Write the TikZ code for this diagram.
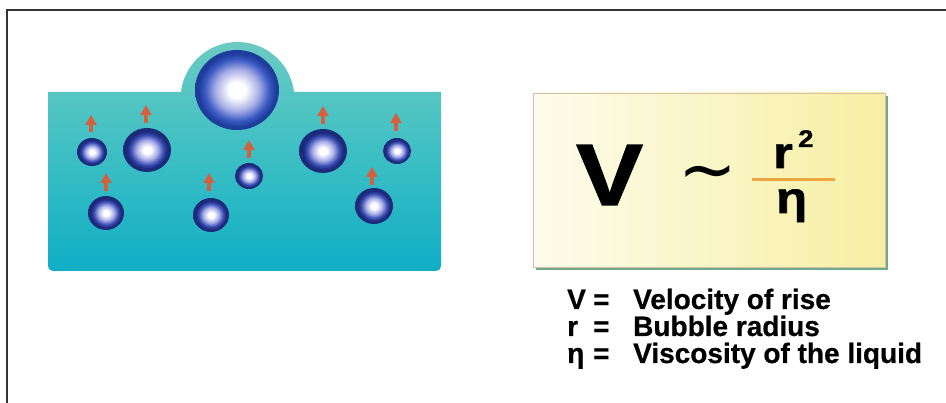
\documentclass[tikz,border=0pt]{standalone}
\usepackage{fontspec}
\setmainfont{Liberation Sans}
\newfontfamily\heavy[FakeBold=1.5,FakeStretch=1.15]{Liberation Sans Bold}
\newfontfamily\legendfont[FakeBold=0.6]{Liberation Sans Bold}
\newfontfamily\symfont{DejaVu Sans}
\usetikzlibrary{arrows.meta}

\definecolor{liqtop}{HTML}{6CCBC2}
\definecolor{liqmid}{HTML}{3CBFC4}
\definecolor{liqbot}{HTML}{10AEC6}
\definecolor{rimnavy}{HTML}{1C2A7A}
\definecolor{bubblue}{HTML}{3A4DB4}
\definecolor{bublav}{HTML}{A8AEE6}
\definecolor{bigblue}{HTML}{3D5CC4}
\definecolor{bigrim}{HTML}{1E3C9C}
\definecolor{arrowred}{HTML}{D5603E}
\definecolor{boxleft}{HTML}{FDFCEC}
\definecolor{boxright}{HTML}{F7EFA2}
\definecolor{boxedge}{HTML}{D9BFA8}
\definecolor{boxshadow}{HTML}{6FA98A}
\definecolor{barorange}{HTML}{F0A540}
\definecolor{framegray}{HTML}{333333}

% bubble shadings: white core, lavender, blue, dark rim
\pgfdeclareradialshading{bubbleshade}{\pgfpoint{0bp}{0bp}}{color(0bp)=(white); color(4bp)=(white); color(11bp)=(bublav); color(17bp)=(bubblue); color(21bp)=(rimnavy); color(25bp)=(rimnavy); color(50bp)=(rimnavy)}
\pgfdeclareradialshading{bigshade}{\pgfpoint{0bp}{0bp}}{color(0bp)=(white); color(5bp)=(white); color(13bp)=(bublav); color(19bp)=(bigblue); color(23bp)=(bigrim); color(25bp)=(bigrim); color(50bp)=(bigrim)}

\tikzset{
  bubble/.style={shading=bubbleshade},
  bigbubble/.style={shading=bigshade},
  risearrow/.style={draw=arrowred, line width=3.5pt, -{Triangle[length=10pt,width=11pt]}},
  heavytext/.style={anchor=base west, inner sep=0pt, text=black},
  legend/.style={anchor=base west, inner sep=0pt, text=black, font=\legendfont\fontsize{28}{28}\selectfont},
}

\begin{document}
\begin{tikzpicture}[x=1pt, y=1pt]
  \fill[white] (0,0) rectangle (946,403);
  \useasboundingbox (0,0) rectangle (946,403);

  % frame
  \coordinate (frameBL) at (7,0);
  \coordinate (frameTL) at (7,393);
  \coordinate (frameTR) at (946,393);
  \draw[framegray, line width=1.5pt] (frameBL) -- (frameTL) -- (frameTR);

  % liquid with the dome over the surfacing bubble
  \shade[top color=liqtop, bottom color=liqbot, middle color=liqmid]
    (48,220) -- (48,311) -- (180.9,311)
    arc[start angle=172.95, end angle=7.05, radius=57]
    -- (441,311) -- (441,220) [rounded corners=5pt] -- (441,132) -- (48,132) -- cycle;

  % surfacing bubble
  \shade[bigbubble] (237,313) ellipse[x radius=42, y radius=40];

  % rising bubbles
  \shade[bubble] (92,251) ellipse[x radius=15, y radius=14];
  \shade[bubble] (147,253) ellipse[x radius=24, y radius=22];
  \shade[bubble] (106,190) ellipse[x radius=18, y radius=17];
  \shade[bubble] (211,188) ellipse[x radius=18, y radius=17];
  \shade[bubble] (249,227) ellipse[x radius=14, y radius=13];
  \shade[bubble] (323,252) ellipse[x radius=24, y radius=22];
  \shade[bubble] (397,252) ellipse[x radius=14, y radius=13];
  \shade[bubble] (374,197) ellipse[x radius=19, y radius=18];

  % rise arrows
  \coordinate (a1b) at (91,271);  \coordinate (a1t) at (91,288);
  \coordinate (a2b) at (146,280); \coordinate (a2t) at (146,298);
  \coordinate (a3b) at (106,212); \coordinate (a3t) at (106,230);
  \coordinate (a4b) at (209,212); \coordinate (a4t) at (209,230);
  \coordinate (a5b) at (249,245); \coordinate (a5t) at (249,263);
  \coordinate (a6b) at (323,279); \coordinate (a6t) at (323,297);
  \coordinate (a7b) at (396,272); \coordinate (a7t) at (396,290);
  \coordinate (a8b) at (372,218); \coordinate (a8t) at (372,236);
  \foreach \i in {1,...,8} \draw[risearrow] (a\i b) -- (a\i t);

  % formula box
  \fill[boxshadow] (536,133) rectangle (888,307);
  \shade[left color=boxleft, right color=boxright, draw=boxedge, line width=0.8pt]
    (533,136) rectangle (885,310);

  \node[heavytext, font=\heavy\fontsize{87}{87}\selectfont] (V) at (576,198) {V};
  \node[inner sep=0pt, font=\symfont\fontsize{70}{70}\selectfont] (sim) at (708,223) {∼};
  \node[heavytext, font=\heavy\fontsize{44}{44}\selectfont] (r) at (773,235) {r};
  \node[heavytext, font=\heavy\fontsize{24}{24}\selectfont] (sq) at (798,256) {2};
  \coordinate (barL) at (752,223);
  \coordinate (barR) at (835,223);
  \draw[barorange, line width=3pt] (barL) -- (barR);
  \node[heavytext, font=\heavy\fontsize{44}{44}\selectfont] (eta) at (776,190) {η};

  % legend
  \node[legend] (s1) at (567,94) {V};
  \node[legend] (e1) at (593,94) {=};
  \node[legend] (d1) at (633,94) {Velocity of rise};
  \node[legend] (s2) at (567,67) {r};
  \node[legend] (e2) at (593,67) {=};
  \node[legend] (d2) at (633,67) {Bubble radius};
  \node[legend] (s3) at (567,40) {η};
  \node[legend] (e3) at (593,40) {=};
  \node[legend] (d3) at (633,40) {Viscosity of the liquid};
\end{tikzpicture}
\end{document}
